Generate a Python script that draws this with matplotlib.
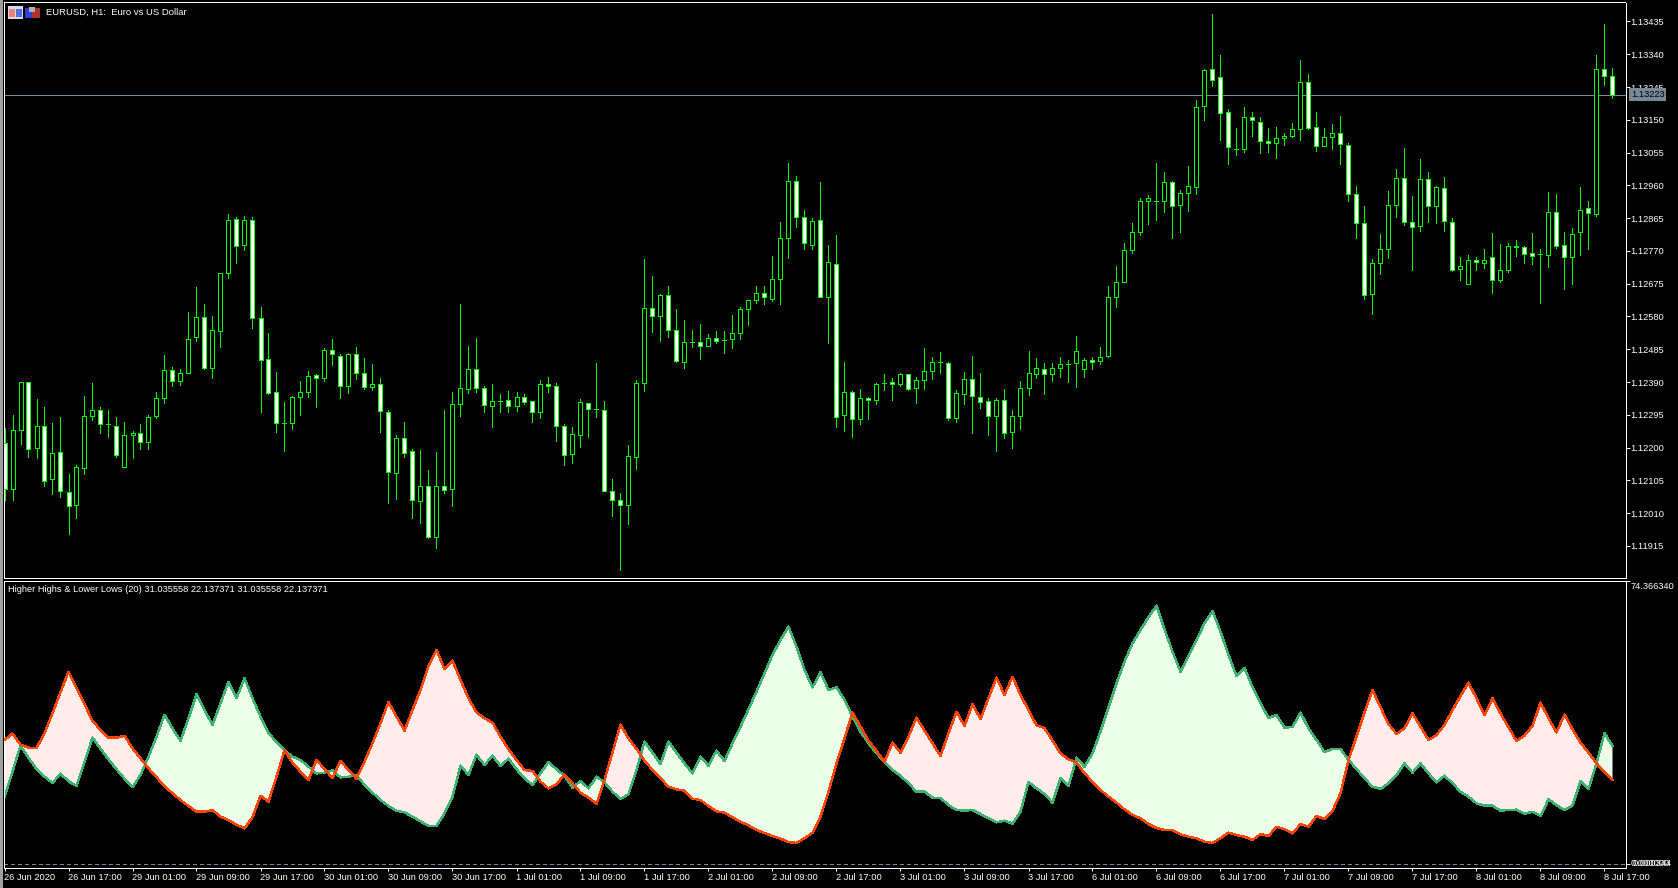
import numpy as np
import matplotlib
matplotlib.use('Agg')
import matplotlib.pyplot as plt
from matplotlib.patches import Rectangle

plt.rcParams['font.family'] = ['Liberation Sans', 'DejaVu Sans']

# EURUSD H1 candles, in points (1e-5)
open_pts = [112213,112080,112251,112391,112198,112262,112110,112187,112071,112033,
112141,112291,112310,112267,112262,112143,112237,112242,112217,112291,
112344,112425,112393,112417,112520,112578,112432,112538,112707,112863,
112788,112861,112577,112457,112361,112272,112272,112346,112361,112410,
112403,112483,112465,112379,112471,112416,112376,112384,112303,112127,
112227,112190,112045,112088,111941,112088,112080,112327,112370,112429,
112374,112320,112336,112339,112320,112347,112335,112304,112385,112379,
112263,112182,112237,112330,112312,112310,112074,112049,112034,112173,
112388,112606,112582,112643,112542,112449,112506,112507,112495,112519,
112511,112516,112533,112603,112629,112649,112632,112690,112806,112974,
112867,112788,112861,112637,112733,112294,112362,112283,112344,112339,
112386,112391,112385,112414,112372,112397,112422,112447,112446,112286,
112356,112399,112347,112336,112292,112339,112246,112292,112373,112414,
112428,112414,112431,112443,112446,112428,112455,112452,112466,112637,
112681,112774,112826,112916,112914,112916,112971,112904,112939,112956,
113191,113296,113273,113174,113065,113064,113157,113145,113090,113084,
113096,113104,113122,113260,113128,113073,113099,113113,113078,112936,
112852,112646,112735,112777,112904,112980,112855,112841,112977,112901,
112951,112855,112719,112675,112745,112736,112751,112687,112716,112785,
112780,112765,112760,112759,112884,112788,112751,112826,112893,112878,
113296,113278]
high_pts = [112256,112295,112391,112391,112342,112319,112272,112290,112124,112150,
112350,112386,112317,112308,112290,112275,112247,112267,112293,112360,
112467,112434,112429,112594,112666,112615,112582,112707,112876,112867,
112870,112867,112608,112533,112420,112333,112350,112394,112423,112414,
112490,112516,112472,112475,112492,112460,112443,112402,112310,112237,
112275,112197,112192,112134,112186,112308,112362,112617,112495,112517,
112379,112385,112356,112365,112362,112356,112336,112395,112405,112388,
112269,112261,112342,112330,112446,112336,112110,112069,112208,112397,
112748,112696,112646,112667,112603,112571,112542,112559,112530,112539,
112539,112585,112608,112629,112667,112669,112756,112855,113026,112986,
112890,112864,112971,112788,112817,112449,112365,112370,112347,112388,
112414,112402,112417,112414,112405,112489,112463,112478,112449,112368,
112420,112466,112417,112344,112344,112370,112310,112394,112481,112460,
112446,112446,112463,112455,112524,112460,112463,112492,112669,112727,
112794,112852,112922,112933,113026,113000,112974,112948,113017,113206,
113296,113456,113339,113180,113125,113186,113174,113157,113125,113128,
113113,113142,113323,113282,113174,113125,113139,113160,113084,112957,
112899,112748,112820,112945,113006,113067,112930,113035,113000,112959,
112983,112864,112751,112759,112753,112777,112823,112791,112794,112803,
112785,112823,112777,112942,112936,112826,112835,112954,112916,113337,
113429,113299]
low_pts = [112047,112048,112210,112172,112169,112088,112066,112057,111949,111996,
112123,112280,112242,112230,112172,112143,112169,112196,112196,112285,
112329,112378,112381,112417,112509,112428,112402,112491,112692,112735,
112773,112547,112303,112355,112245,112190,112253,112294,112346,112317,
112393,112439,112344,112358,112399,112369,112367,112245,112039,112051,
112172,111995,111981,111937,111908,112068,112030,112291,112358,112362,
112303,112259,112303,112303,112306,112326,112274,112286,112361,112219,
112149,112155,112201,112230,112288,112075,112001,111845,111978,112138,
112364,112535,112509,112520,112448,112431,112491,112457,112495,112503,
112474,112489,112515,112555,112619,112616,112625,112616,112750,112840,
112776,112776,112635,112503,112259,112248,112230,112268,112282,112326,
112366,112338,112378,112367,112329,112369,112398,112416,112280,112274,
112326,112242,112314,112236,112190,112227,112198,112253,112352,112401,
112355,112393,112404,112390,112375,112404,112427,112442,112462,112607,
112681,112764,112816,112848,112860,112883,112808,112825,112886,112935,
113150,113249,113092,113022,113048,113057,113104,113054,113056,113040,
113077,113099,113092,113123,113060,113073,113066,113022,112915,112808,
112631,112587,112703,112750,112869,112845,112715,112828,112854,112851,
112828,112711,112686,112675,112715,112721,112648,112680,112709,112755,
112735,112732,112619,112723,112779,112660,112674,112758,112776,112872,
113250,113214]
close_pts = [112081,112252,112391,112197,112262,112104,112185,112075,112031,112144,
112292,112310,112269,112267,112179,112237,112243,112217,112290,112345,
112426,112394,112417,112516,112579,112432,112542,112707,112861,112783,
112861,112577,112455,112359,112272,112272,112347,112362,112408,112403,
112484,112470,112379,112472,112417,112376,112385,112307,112130,112228,
112185,112049,112089,111941,112088,112078,112327,112374,112429,112374,
112324,112336,112336,112320,112347,112333,112304,112385,112379,112263,
112179,112240,112333,112313,112312,112075,112049,112034,112176,112388,
112606,112582,112643,112542,112451,112507,112506,112495,112519,112510,
112511,112533,112603,112629,112649,112635,112690,112806,112974,112867,
112794,112858,112635,112739,112288,112362,112283,112344,112339,112385,
112386,112385,112414,112369,112397,112423,112449,112447,112286,112359,
112399,112350,112333,112292,112339,112243,112292,112373,112417,112431,
112414,112431,112443,112443,112481,112455,112449,112463,112637,112681,
112774,112826,112916,112922,112914,112971,112901,112939,112959,113186,
113293,113264,113171,113070,113065,113157,113148,113090,113084,113096,
113104,113122,113260,113127,113073,113099,113113,113081,112936,112852,
112643,112736,112777,112904,112980,112855,112838,112977,112901,112954,
112858,112716,112727,112745,112739,112745,112687,112716,112785,112780,
112762,112756,112760,112884,112785,112751,112820,112890,112881,113296,
113276,113223]

# Higher Highs & Lower Lows (20)
hh_values = [17.69,24.26,31.09,27.94,24.96,22.95,21.28,23.74,21.72,20.50,
26.89,33.20,30.31,27.50,24.88,22.42,20.23,23.39,28.20,33.46,
39.24,35.65,32.32,38.28,44.59,40.47,36.53,42.22,47.91,43.62,
48.79,43.53,38.72,34.34,32.15,29.87,28.20,27.33,25.58,23.82,
24.00,24.61,22.77,22.95,23.39,20.76,18.74,16.82,15.24,14.01,
13.57,12.44,11.21,9.99,9.99,13.31,17.69,25.84,23.39,28.73,
26.02,28.47,25.75,27.68,24.88,22.51,20.76,23.83,26.80,24.88,
23.13,20.06,21.81,19.88,22.95,21.46,19.01,17.08,18.39,24.70,
32.15,29.26,26.28,32.15,29.26,26.45,23.83,28.21,25.84,29.78,
27.07,31.71,36.09,40.65,45.29,50.11,54.92,58.87,62.37,57.11,
50.98,46.43,50.37,45.73,46.43,43.10,38.72,34.78,31.71,29.08,
26.80,24.70,23.21,21.20,19.01,19.01,17.43,17.34,15.50,14.19,
14.01,14.19,13.14,12.00,10.95,11.39,10.60,13.75,21.55,19.88,
18.39,16.12,22.51,20.50,27.95,25.58,29.08,34.78,41.17,47.48,
53.17,57.99,61.50,64.82,67.89,61.67,55.80,50.55,54.66,58.87,
63.25,66.49,61.06,54.93,49.41,51.51,46.43,42.22,38.37,39.16,
35.83,36.00,39.77,35.65,32.59,29.43,30.22,30.22,27.33,24.97,
22.51,20.32,19.71,21.20,23.39,26.45,24.00,26.45,23.82,21.46,
23.21,21.20,19.01,17.69,15.94,15.33,15.33,14.01,14.19,14.28,
13.14,13.75,12.61,16.99,15.50,14.19,15.41,21.72,19.71,26.45,
34.34,31.04]
ll_values = [32.58,34.25,31.36,30.57,30.48,34.34,39.59,45.11,50.54,46.25,
41.96,37.66,35.21,33.20,33.20,33.72,30.39,27.77,25.14,22.77,
20.50,18.57,16.82,15.24,13.75,13.75,14.19,12.44,11.56,10.33,
9.37,12.26,17.95,16.38,22.95,29.87,26.63,24.26,22.07,27.33,
24.96,22.60,27.07,24.70,22.42,26.89,31.71,36.96,42.57,38.72,
35.04,40.47,45.73,52.03,56.24,51.24,53.43,48.35,43.54,39.86,
38.28,37.14,33.46,30.13,27.33,24.70,24.44,21.64,19.88,20.94,
23.48,21.20,18.75,17.43,15.85,22.07,29.34,36.62,33.02,30.22,
27.15,24.70,22.51,20.32,19.62,19.27,17.17,16.82,15.24,13.84,
13.49,12.26,11.12,10.16,8.93,8.15,7.36,6.66,5.78,5.52,
6.75,8.23,12.44,19.01,26.45,33.02,39.77,36.09,32.41,29.78,
26.80,31.89,29.26,33.46,38.46,35.04,31.71,28.38,34.34,40.03,
36.27,41.96,38.10,43.54,48.97,44.41,49.23,44.41,40.47,36.44,
35.74,32.41,29.08,27.51,26.72,23.83,21.64,19.45,17.70,16.12,
14.37,12.88,12.00,10.51,9.46,8.94,8.94,7.80,7.18,6.75,
5.87,5.52,6.75,8.24,7.62,7.18,6.31,7.88,7.36,9.81,
9.11,8.06,10.51,9.81,12.62,11.83,13.93,18.57,27.33,33.46,
39.77,45.73,41.17,36.79,34.16,35.65,39.59,36.09,32.58,33.90,
36.53,40.47,44.15,47.65,43.53,39.07,43.53,39.59,35.91,32.32,
33.72,36.26,42.40,38.28,34.60,39.24,35.39,31.88,29.26,26.45,
24.09,22.14]

price_ticks = [1.13435 - 0.00095 * i for i in range(17)]
time_labels = ['26 Jun 2020','26 Jun 17:00','29 Jun 01:00','29 Jun 09:00','29 Jun 17:00',
               '30 Jun 01:00','30 Jun 09:00','30 Jun 17:00','1 Jul 01:00','1 Jul 09:00',
               '1 Jul 17:00','2 Jul 01:00','2 Jul 09:00','2 Jul 17:00','3 Jul 01:00',
               '3 Jul 09:00','3 Jul 17:00','6 Jul 01:00','6 Jul 09:00','6 Jul 17:00',
               '7 Jul 01:00','7 Jul 09:00','7 Jul 17:00','8 Jul 01:00','8 Jul 09:00','8 Jul 17:00']

W, H = 1678, 888
LIME = '#00FF00'
SLATE = '#778899'
PX = 0.72
FS = 6.7
LEFT, RIGHT = 4.0, 1625.5

o = np.array(open_pts) / 1e5
hi = np.array(high_pts) / 1e5
lo = np.array(low_pts) / 1e5
c = np.array(close_pts) / 1e5
x = np.arange(len(o))

fig = plt.figure(figsize=(W / 100, H / 100), dpi=100, facecolor='black')

def make_axes(top, bottom):
    ax = fig.add_axes([LEFT / W, 1 - bottom / H, (RIGHT - LEFT) / W, (bottom - top) / H])
    ax.set_facecolor('black')
    ax.set_xlim((LEFT - 4.5) / 8, (RIGHT - 4.5) / 8)
    for s in ax.spines.values():
        s.set_color('white')
        s.set_linewidth(PX)
    return ax

# price window
ax = make_axes(2.5, 578)
ax.set_ylim(1.11822, 1.13490)
ax.vlines(x, lo, hi, color=LIME, linewidth=PX, antialiased=False, zorder=2)
bear = c < o
ax.bar(x, c - o, bottom=o, width=0.5, color=np.where(bear, 'white', 'black').tolist(),
       edgecolor=LIME, linewidth=PX, antialiased=False, zorder=3)
ax.axhline(c[-1], color=SLATE, linewidth=PX, antialiased=False, zorder=1.5)
ax.set_xticks([])
ax.yaxis.tick_right()
ax.set_yticks(price_ticks)
ax.set_yticklabels(['%.5f' % p for p in price_ticks])
ax.tick_params(axis='y', colors='white', length=2.9, width=PX, pad=0.8, labelsize=FS)
ax.annotate('%.5f' % c[-1], xy=(1, c[-1]), xycoords=('axes fraction', 'data'),
            xytext=(3.8, 0), textcoords='offset points', va='center', ha='left',
            fontsize=FS, color='black', zorder=10, annotation_clip=False,
            bbox=dict(boxstyle='square,pad=0.22', fc=SLATE, ec=SLATE, lw=0))

# indicator window
ax2 = make_axes(581, 868)
ax2.set_ylim(-1.05, 74.36634)
g = np.array(hh_values)
r = np.array(ll_values)
ax2.fill_between(x, g, r, where=g >= r, interpolate=True, color='#EAFEE8', linewidth=0, zorder=1)
ax2.fill_between(x, g, r, where=g <= r, interpolate=True, color='#FFECEB', linewidth=0, zorder=1)
ax2.plot(x, g, color='#3CB371', linewidth=1.0, antialiased=False, zorder=2)
ax2.plot(x, r, color='#FF4500', linewidth=1.0, antialiased=False, zorder=3)
ax2.axhline(0, color=SLATE, linewidth=PX, linestyle=(0, (4, 3)), antialiased=False)
ax2.yaxis.tick_right()
ax2.set_yticks([74.36634, 0])
ax2.set_yticklabels([])
ax2.tick_params(axis='y', colors='white', length=2.9, width=PX)
ax2.set_xticks(x[::8])
ax2.set_xticklabels(time_labels, ha='left')
ax2.tick_params(axis='x', colors='white', length=2.2, width=PX, pad=1.2, labelsize=FS)
for val, txt, dx, dy in [(74.36634, '74.366340', 3.6, -3.6), (0, '0.000000', 3.6, 0.5), (0, '0.000344', 5.2, 0.5)]:
    ax2.annotate(txt, xy=(1, val), xycoords=('axes fraction', 'data'), xytext=(dx, dy),
                 textcoords='offset points', va='center', ha='left', fontsize=FS,
                 color='white', annotation_clip=False)

# window decorations in pixel coordinates
deco = fig.add_axes([0, 0, 1, 1])
deco.set_xlim(0, W)
deco.set_ylim(H, 0)
deco.axis('off')
deco.add_patch(Rectangle((0, 0), 2.5, H, color='#A0A0A0', lw=0))
deco.text(45.5, 12.5, 'EURUSD, H1:  Euro vs US Dollar', color='white', fontsize=6.8, va='center')
deco.text(7.5, 589.5, 'Higher Highs & Lower Lows (20) 31.035558 22.137371 31.035558 22.137371',
          color='white', fontsize=6.65, va='center')
# two little toolbar icons
deco.add_patch(Rectangle((8, 6), 15, 13, color='#D8D8F0', lw=0))
deco.add_patch(Rectangle((9, 9), 6, 8, color='#F08070', lw=0))
deco.add_patch(Rectangle((16, 9), 6, 8, color='#5070E0', lw=0))
deco.add_patch(Rectangle((25, 8), 7, 10, color='#3040D0', lw=0))
deco.add_patch(Rectangle((32, 8), 8, 10, color='#B03030', lw=0))
deco.add_patch(Rectangle((29, 7), 6, 5, color='#B0B0B0', lw=0))

fig.savefig('out.png', dpi=100, facecolor='black')
